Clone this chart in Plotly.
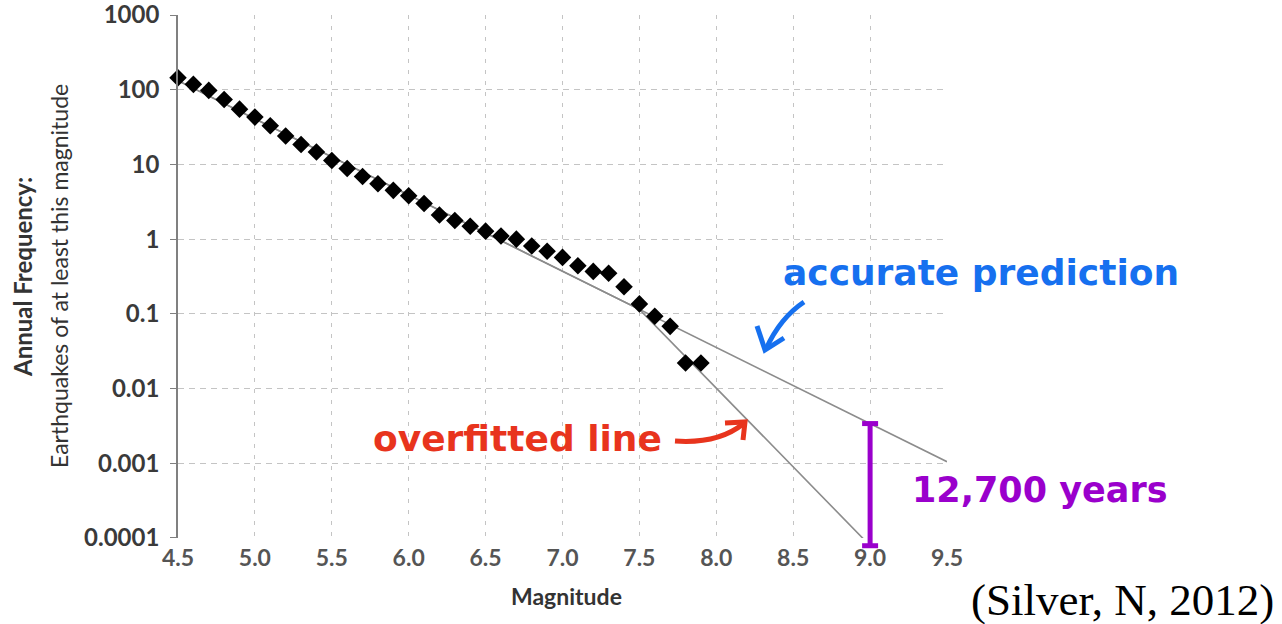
import math
import plotly.graph_objects as go

# ---- data ----
magnitude = [4.5, 4.6, 4.7, 4.8, 4.9, 5.0, 5.1, 5.2, 5.3, 5.4, 5.5, 5.6, 5.7, 5.8, 5.9,
             6.0, 6.1, 6.2, 6.3, 6.4, 6.5, 6.6, 6.7, 6.8, 6.9, 7.0, 7.1, 7.2, 7.3, 7.4,
             7.5, 7.6, 7.7, 7.8, 7.9]
frequency = [145, 118, 98, 74, 55, 43, 33, 24, 18.5, 14.7, 11.3, 8.8, 6.9, 5.5, 4.5,
             3.8, 3.0, 2.1, 1.78, 1.49, 1.28, 1.1, 1.0, 0.81, 0.69, 0.57, 0.44, 0.37, 0.35, 0.23,
             0.136, 0.093, 0.068, 0.022, 0.022]

fit_mag = [4.5, 9.5]
fit_freq = [132, 0.00105]

overfit_mag = [4.5, 7.5, 9.0]
overfit_freq = [132, 0.115, 1 / 12700]

bar_mag = 9.0
bar_top = 0.0034
bar_bottom = 1 / 12700

x_ticks = [4.5, 5.0, 5.5, 6.0, 6.5, 7.0, 7.5, 8.0, 8.5, 9.0, 9.5]
x_ticktext = ["4.5", "5.0", "5.5", "6.0", "6.5", "7.0", "7.5", "8.0", "8.5", "9.0", "9.5"]
y_ticks = [0.0001, 0.001, 0.01, 0.1, 1, 10, 100, 1000]
y_ticktext = ["0.0001", "0.001", "0.01", "0.1", "1", "10", "100", "1000"]

X_RANGE = [4.5, 9.5]
Y_RANGE = [-4.0003, 3.0003]

# ---- layout geometry (reference pixels) ----
W, H = 1282, 624
L, R, T, B = 178, 947, 15, 538
PW, PH = R - L, B - T


def px(x, y):
    return (x - L) / PW, (B - y) / PH


def data_to_paper(m, v):
    return ((m - X_RANGE[0]) / (X_RANGE[1] - X_RANGE[0]),
            (math.log10(v) - Y_RANGE[0]) / (Y_RANGE[1] - Y_RANGE[0]))


def path(points, curve=None):
    x0, y0 = px(*points[0])
    if curve:
        cx, cy = px(*curve)
        x1, y1 = px(*points[1])
        return f"M {x0},{y0} Q {cx},{cy} {x1},{y1}"
    s = f"M {x0},{y0}"
    for p in points[1:]:
        a, b = px(*p)
        s += f" L {a},{b}"
    return s


BLUE = "#1670ef"
RED = "#e8341d"
PURPLE = "#9a00cc"
GRAY_LINE = "#8c8c8c"

fig = go.Figure()

fig.add_trace(go.Scatter(x=fit_mag, y=fit_freq, mode="lines",
                         line=dict(color=GRAY_LINE, width=1.6), hoverinfo="skip",
                         showlegend=False))
fig.add_trace(go.Scatter(x=overfit_mag, y=overfit_freq, mode="lines",
                         line=dict(color=GRAY_LINE, width=1.6), hoverinfo="skip",
                         showlegend=False))
fig.add_trace(go.Scatter(x=magnitude, y=frequency, mode="markers",
                         marker=dict(symbol="diamond", size=13.5, color="black",
                                     line=dict(width=0)),
                         cliponaxis=False, showlegend=False))

# purple interval bar (paper coords derived from the data values, so it is not clipped)
bx, by_top = data_to_paper(bar_mag, bar_top)
_, by_bot = data_to_paper(bar_mag, bar_bottom)
cap = 8 / PW

shapes = [
    # solid horizontal line at 1
    dict(type="line", xref="paper", yref="y", x0=0, x1=1, y0=0, y1=0,
         line=dict(color="#7a7a7a", width=1.6), layer="between"),
    # purple bar
    dict(type="line", xref="paper", yref="paper", x0=bx, x1=bx, y0=by_bot, y1=by_top,
         line=dict(color=PURPLE, width=5)),
    dict(type="line", xref="paper", yref="paper", x0=bx - cap, x1=bx + cap, y0=by_top, y1=by_top,
         line=dict(color=PURPLE, width=5)),
    dict(type="line", xref="paper", yref="paper", x0=bx - cap, x1=bx + cap, y0=by_bot, y1=by_bot,
         line=dict(color=PURPLE, width=5)),
    # blue arrow
    dict(type="path", xref="paper", yref="paper",
         path=path([(804, 302), (766, 349)], curve=(780, 318)),
         line=dict(color=BLUE, width=5)),
    dict(type="path", xref="paper", yref="paper",
         path=path([(757, 326), (765, 350), (784, 338)]),
         line=dict(color=BLUE, width=5)),
    # red arrow
    dict(type="path", xref="paper", yref="paper",
         path=path([(675, 441), (743, 424)], curve=(718, 444)),
         line=dict(color=RED, width=5)),
    dict(type="path", xref="paper", yref="paper",
         path=path([(725, 423), (745, 422), (743, 440)]),
         line=dict(color=RED, width=5)),
]

annotations = []


def add_text(text, cx, cy, size, color, family, angle=0, bold=True):
    x, y = px(cx, cy)
    annotations.append(dict(
        text=f"<b>{text}</b>" if bold else text, x=x, y=y, xref="paper", yref="paper",
        xanchor="center", yanchor="middle", showarrow=False, textangle=angle,
        font=dict(size=size, color=color, family=family)))


add_text("accurate prediction", 981, 272, 36, BLUE, "DejaVu Sans")
add_text("overfitted line", 517, 438, 36, RED, "DejaVu Sans")
add_text("12,700 years", 1040, 490, 35, PURPLE, "DejaVu Sans")
add_text("(Silver, N, 2012)", 1122, 600, 45, "black", "Liberation Serif", bold=False)
add_text("Annual Frequency:", 22, 277, 24, "#333333", "Lato", angle=-90)
add_text("Earthquakes of at least this magnitude", 59, 276, 23, "#333333", "Lato",
         angle=-90, bold=False)
add_text("Magnitude", 566, 596, 23, "#333333", "Lato")

fig.update_layout(
    width=W, height=H,
    margin=dict(l=L, r=W - R, t=T, b=H - B, autoexpand=False),
    paper_bgcolor="white", plot_bgcolor="white",
    shapes=shapes, annotations=annotations,
    xaxis=dict(range=X_RANGE, tickvals=x_ticks, ticktext=x_ticktext,
               showgrid=True, gridcolor="#c4c4c4", gridwidth=1, griddash="4px,7px",
               showline=False, zeroline=False, ticks="", ticklabelstandoff=4,
               ticklabeloverflow="allow",
               tickfont=dict(family="Lato", size=23, color="#555555", weight="bold")),
    yaxis=dict(type="log", range=Y_RANGE, tickvals=y_ticks, ticktext=y_ticktext,
               showgrid=True, gridcolor="#c4c4c4", gridwidth=1, griddash="6px,5px",
               showline=True, linecolor="#808080", linewidth=1.6,
               ticks="outside", ticklen=6, tickcolor="#808080", ticklabelstandoff=6,
               ticklabeloverflow="allow",
               tickfont=dict(family="Lato", size=24, color="#3a3a3a", weight="bold")),
)

fig.write_html("out.html", config={"displayModeBar": False},
               post_script="document.body.style.margin='0px';document.body.style.overflow='hidden';")
